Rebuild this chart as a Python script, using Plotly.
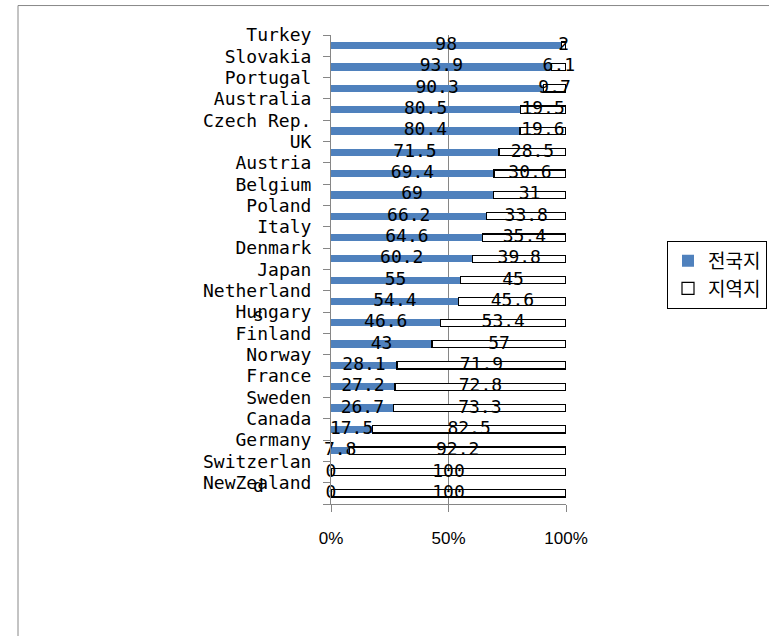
import plotly.graph_objects as go

categories = ["Turkey", "Slovakia", "Portugal", "Australia", "Czech Rep.", "UK", "Austria",
              "Belgium", "Poland", "Italy", "Denmark", "Japan", "Netherlands", "Hungary",
              "Finland", "Norway", "France", "Sweden", "Canada", "Germany", "Switzerland",
              "NewZealand"]
national = [98, 93.9, 90.3, 80.5, 80.4, 71.5, 69.4, 69, 66.2, 64.6, 60.2, 55, 54.4, 46.6,
            43, 28.1, 27.2, 26.7, 17.5, 7.8, 0, 0]
regional = [2, 6.1, 9.7, 19.5, 19.6, 28.5, 30.6, 31, 33.8, 35.4, 39.8, 45, 45.6, 53.4,
            57, 71.9, 72.8, 73.3, 82.5, 92.2, 100, 100]
series_names = ["전국지", "지역지"]
x_ticks = [0, 50, 100]
x_tick_labels = ["0%", "50%", "100%"]

# Tick label text as drawn (long names wrap onto a second line)
tick_first = ["Switzerlan" if c == "Switzerland" else "Netherland" if c == "Netherlands" else c
              for c in categories]

idx = list(range(len(categories)))
W, H = 769, 636
L, R, T, B = 331, 566, 35, 504.5

mono = "DejaVu Sans Mono, Liberation Mono, monospace"
sans = "Liberation Sans, Arial, sans-serif"
kr = "Noto Sans CJK KR, sans-serif"

fig = go.Figure()
fig.add_trace(go.Bar(y=idx, x=national, orientation="h", name=series_names[0],
                     marker=dict(color="#4F81BD", line=dict(width=0)), hoverinfo="skip"))
fig.add_trace(go.Bar(y=idx, x=regional, orientation="h", name=series_names[1],
                     marker=dict(color="#FFFFFF", line=dict(color="#000000", width=1.2)),
                     hoverinfo="skip"))

# data labels centered in each segment
fig.add_trace(go.Scatter(y=idx, x=[v / 2 for v in national], mode="text",
                         text=[f"{v:g}" for v in national], textposition="middle center",
                         textfont=dict(family=mono, size=18, color="#000000"),
                         showlegend=False, hoverinfo="skip", cliponaxis=False))
fig.add_trace(go.Scatter(y=idx, x=[a + b / 2 for a, b in zip(national, regional)], mode="text",
                         text=[f"{v:g}" for v in regional], textposition="middle center",
                         textfont=dict(family=mono, size=18, color="#000000"),
                         showlegend=False, hoverinfo="skip", cliponaxis=False))

tickvals = [i - 0.5 for i in range(len(categories) + 1)]
ticktext = tick_first + [""]

annotations = []
for i, c in enumerate(categories):
    if c != tick_first[i]:
        annotations.append(dict(x=(258 - L) / (R - L), xref="paper", y=i - 0.5, yref="y",
                                yshift=-24, text=c[len(tick_first[i]):], showarrow=False,
                                xanchor="center", yanchor="middle",
                                font=dict(family=mono, size=18, color="#000000")))

fig.update_layout(
    width=W, height=H,
    margin=dict(l=L, r=W - R, t=T, b=H - B, pad=0, autoexpand=False),
    paper_bgcolor="white", plot_bgcolor="white",
    barmode="stack", bargap=0.66,
    showlegend=True,
    legend=dict(x=(667 - L) / (R - L), xanchor="left", y=1 + (T - 241) / (B - T), yanchor="top",
                bordercolor="#000000", borderwidth=1, bgcolor="white", traceorder="normal",
                font=dict(family=kr, size=19, color="#000000"), itemwidth=30),
    xaxis=dict(range=[0, 100], tickmode="array", tickvals=x_ticks, ticktext=x_tick_labels,
               showgrid=True, gridcolor="#868686", gridwidth=1, showline=True,
               linecolor="#868686", ticks="outside", ticklen=7, tickcolor="#868686",
               zeroline=False, tickfont=dict(family=sans, size=17, color="#000000"),
               ticklabelstandoff=12, fixedrange=True),
    yaxis=dict(range=[len(categories) - 0.5, -0.5], tickmode="array", tickvals=tickvals,
               ticktext=ticktext, showgrid=False, showline=True, linecolor="#868686",
               ticks="outside", ticklen=7, tickcolor="#868686", zeroline=False,
               tickfont=dict(family=mono, size=18, color="#000000"), ticklabelstandoff=8,
               fixedrange=True),
    annotations=annotations,
    shapes=[dict(type="rect", xref="paper", yref="paper",
                 x0=(18 - L) / (R - L), x1=(780 - L) / (R - L),
                 y0=1 + (T - 645) / (B - T), y1=1 + (T - 5.5) / (B - T),
                 line=dict(color="#888888", width=1), fillcolor="rgba(0,0,0,0)", layer="below")],
)

fig.write_html("out.html", config={"displayModeBar": False})
